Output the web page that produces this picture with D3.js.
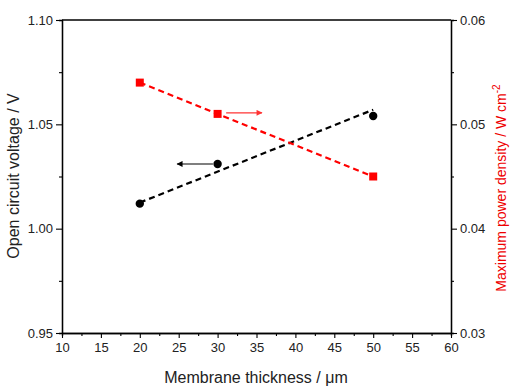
<!DOCTYPE html>
<html>
<head>
<meta charset="utf-8">
<script src="https://cdn.jsdelivr.net/npm/d3@7"></script>
<style>
  body { margin: 0; background: #fff; }
  svg { font-family: "Liberation Sans", Arial, sans-serif; }
</style>
</head>
<body>
<div id="chart"></div>
<script>
// membrane thickness (um)
const thickness = [20, 30, 50];
// open circuit voltage (V), left axis
const ocv = [1.012, 1.031, 1.054];
// max power density (W cm-2), right axis
const power = [0.054, 0.051, 0.045];
// dashed fit line for OCV
const ocvFitX = [20, 50];
const ocvFitY = [1.0125, 1.057];

const xTicks = [10, 15, 20, 25, 30, 35, 40, 45, 50, 55, 60];
const yLeftTicks = [0.95, 1.00, 1.05, 1.10];
const yRightTicks = [0.03, 0.04, 0.05, 0.06];

const width = 517, height = 392;
const margin = { top: 20, right: 66, bottom: 59, left: 62 };

const svg = d3.select("#chart").append("svg")
    .attr("width", width)
    .attr("height", height);

const x = d3.scaleLinear().domain([10, 60]).range([margin.left, width - margin.right]);
const yL = d3.scaleLinear().domain([0.95, 1.10]).range([height - margin.bottom, margin.top]);
const yR = d3.scaleLinear().domain([0.03, 0.06]).range([height - margin.bottom, margin.top]);

function styleAxis(g) {
    g.selectAll("path").attr("stroke", "#000").attr("stroke-width", 1.3);
    g.selectAll("line").attr("stroke", "#000").attr("stroke-width", 1.1);
    g.selectAll("text").attr("font-size", 13).attr("fill", "#222");
}

// minor ticks first, then majors on top
svg.append("g")
    .attr("transform", "translate(0," + (height - margin.bottom) + ")")
    .call(d3.axisBottom(x).tickValues(d3.range(12.5, 60, 5)).tickSize(3).tickFormat(""))
    .call(styleAxis);
svg.append("g")
    .attr("transform", "translate(0," + (height - margin.bottom) + ")")
    .call(d3.axisBottom(x).tickValues(xTicks).tickSize(5).tickSizeOuter(0).tickPadding(5).tickFormat(d3.format("d")))
    .call(styleAxis);

svg.append("g")
    .attr("transform", "translate(" + margin.left + ",0)")
    .call(d3.axisLeft(yL).tickValues([0.975, 1.025, 1.075]).tickSize(3).tickFormat(""))
    .call(styleAxis);
svg.append("g")
    .attr("transform", "translate(" + margin.left + ",0)")
    .call(d3.axisLeft(yL).tickValues(yLeftTicks).tickSize(6).tickSizeOuter(0).tickPadding(3).tickFormat(d3.format(".2f")))
    .call(styleAxis);

svg.append("g")
    .attr("transform", "translate(" + (width - margin.right) + ",0)")
    .call(d3.axisRight(yR).tickValues([0.035, 0.045, 0.055]).tickSize(3).tickFormat(""))
    .call(styleAxis);
svg.append("g")
    .attr("transform", "translate(" + (width - margin.right) + ",0)")
    .call(d3.axisRight(yR).tickValues(yRightTicks).tickSize(6).tickSizeOuter(0).tickPadding(3).tickFormat(d3.format(".2f")))
    .call(styleAxis);

// top frame line
svg.append("line")
    .attr("x1", margin.left).attr("x2", width - margin.right)
    .attr("y1", margin.top).attr("y2", margin.top)
    .attr("stroke", "#000").attr("stroke-width", 1.3);

// dashed lines
const fitLine = d3.line().x(d => x(d[0])).y(d => yL(d[1]));
svg.append("path")
    .datum(d3.zip(ocvFitX, ocvFitY))
    .attr("d", fitLine)
    .attr("fill", "none").attr("stroke", "#000")
    .attr("stroke-width", 2.2).attr("stroke-dasharray", "6,4");

const powLine = d3.line().x(d => x(d[0])).y(d => yR(d[1]));
svg.append("path")
    .datum(d3.zip(thickness, power))
    .attr("d", powLine)
    .attr("fill", "none").attr("stroke", "#f00")
    .attr("stroke-width", 2.2).attr("stroke-dasharray", "6,4");

// markers
svg.selectAll("circle.ocv")
    .data(d3.zip(thickness, ocv))
    .enter().append("circle")
    .attr("class", "ocv")
    .attr("cx", d => x(d[0]))
    .attr("cy", d => yL(d[1]))
    .attr("r", 4.2)
    .attr("fill", "#000");

svg.selectAll("rect.pow")
    .data(d3.zip(thickness, power))
    .enter().append("rect")
    .attr("class", "pow")
    .attr("x", d => x(d[0]) - 4)
    .attr("y", d => yR(d[1]) - 4)
    .attr("width", 8).attr("height", 8)
    .attr("fill", "#f00");

// arrows pointing to each axis
const defs = svg.append("defs");
[["ahBlack", "#000"], ["ahRed", "#f33"]].forEach(([id, c]) => {
    defs.append("marker")
        .attr("id", id)
        .attr("viewBox", "0 0 10 10")
        .attr("refX", 9).attr("refY", 5)
        .attr("markerWidth", 9).attr("markerHeight", 6)
        .attr("markerUnits", "userSpaceOnUse")
        .attr("orient", "auto")
        .append("path").attr("d", "M0,0L10,5L0,10Z").attr("fill", c);
});

svg.append("line")
    .attr("x1", x(29.4)).attr("x2", x(24.8))
    .attr("y1", yL(1.031)).attr("y2", yL(1.031))
    .attr("stroke", "#000").attr("stroke-width", 1.2)
    .attr("marker-end", "url(#ahBlack)");

svg.append("line")
    .attr("x1", x(31.1)).attr("x2", x(35.7))
    .attr("y1", yR(0.0511)).attr("y2", yR(0.0511))
    .attr("stroke", "#f33").attr("stroke-width", 1.2)
    .attr("marker-end", "url(#ahRed)");

// axis titles
svg.append("text")
    .attr("x", 256)
    .attr("y", 383)
    .attr("text-anchor", "middle")
    .attr("font-size", 16)
    .attr("fill", "#222")
    .text("Membrane thickness / μm");

svg.append("text")
    .attr("transform", "translate(19,176) rotate(-90)")
    .attr("text-anchor", "middle")
    .attr("font-size", 16)
    .attr("fill", "#222")
    .text("Open circuit voltage / V");

const rt = svg.append("text")
    .attr("transform", "translate(506,188) rotate(-90)")
    .attr("text-anchor", "middle")
    .attr("font-size", 14)
    .attr("fill", "#e00");
rt.append("tspan").text("Maximum power density / W cm");
rt.append("tspan").attr("dy", -6).attr("font-size", 10).text("-2");
</script>
</body>
</html>
